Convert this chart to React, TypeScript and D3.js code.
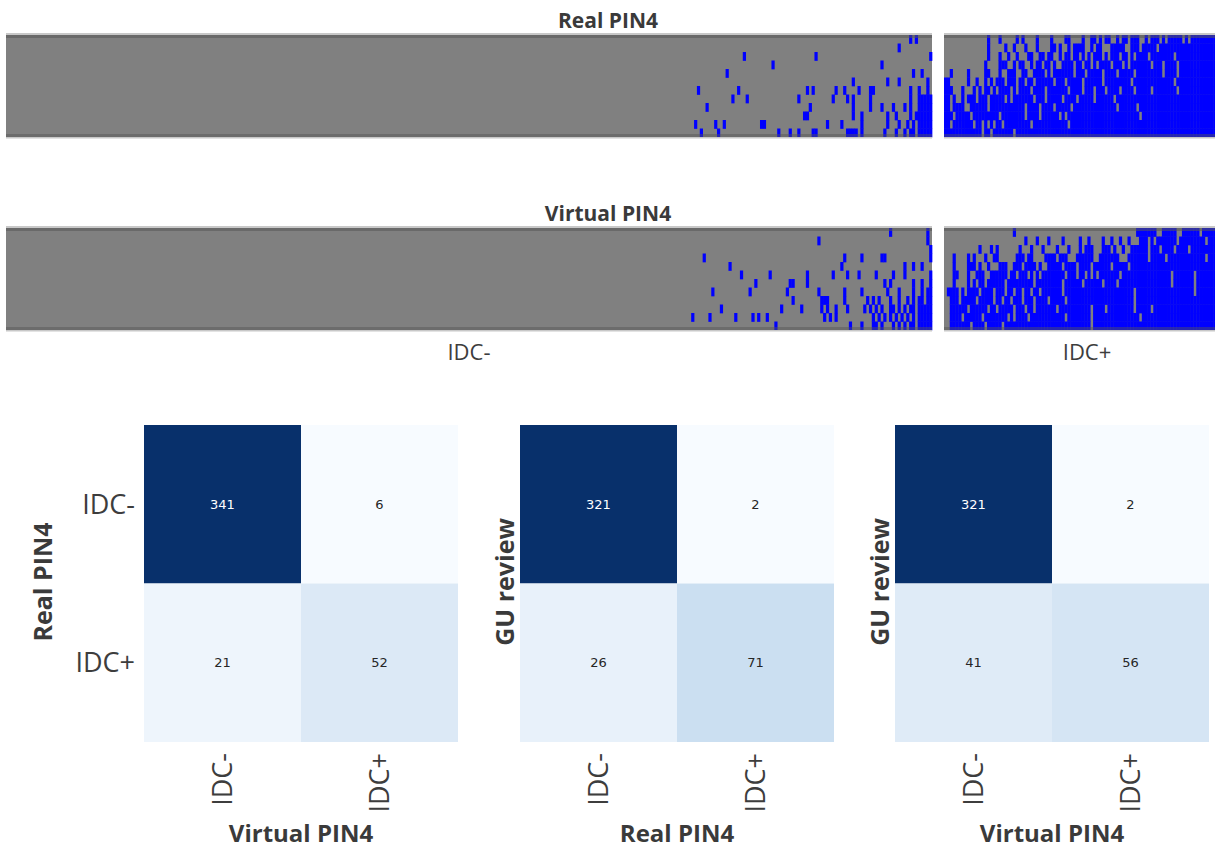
import React from 'react';
import * as d3 from 'd3';

const W = 1215;
const H = 850;
const FONT = "'Open Sans', 'DejaVu Sans', sans-serif";
const GRAY = "#808080";
const BLUE = "#0000ff";

// ---- top strips: one column per case, 12 rows per case ----
const nRows = 12;
const nNeg = 323;        // GU review IDC-
const nPos = 97;         // GU review IDC+
const negOffset = 238;   // first 238 IDC- columns are all gray

// blue cells of the IDC- block, column index counted from negOffset
const realNegBlue = [
  [77, 79],
  [73],
  [19, 44, 84],
  [29, 67],
  [13, 78, 81],
  [57, 69, 73, 83],
  [3, 17, 41, 43, 51, 54, 59, 63, 64, 77, 80, 83],
  [15, 20, 38, 50, 55, 57, 63, 77, 80, 81, 82, 83, 84],
  [6, 42, 57, 63, 67, 71, 75, 77, 80, 81, 82, 83, 84],
  [40, 41, 57, 60, 69, 72, 77, 79, 80, 81, 82, 83, 84],
  [2, 9, 12, 25, 26, 48, 53, 60, 69, 73, 76, 78, 80, 81, 82, 83, 84],
  [4, 10, 31, 35, 38, 43, 44, 55, 56, 57, 58, 60, 68, 72, 75, 77, 78, 80, 81, 82, 83, 84],
];

const virtualNegBlue = [
  [70, 83],
  [45, 83],
  [84],
  [5, 54, 60, 67, 68, 84],
  [14, 53, 75, 78, 81],
  [18, 28, 41, 50, 55, 59, 65, 71, 75, 84],
  [23, 35, 36, 41, 68, 70, 78, 81, 84],
  [8, 21, 34, 45, 54, 60, 69, 73, 78, 81, 83, 84],
  [36, 46, 47, 48, 54, 62, 64, 66, 70, 73, 76, 78, 80, 81, 83, 84],
  [11, 32, 39, 46, 48, 51, 55, 61, 63, 65, 67, 70, 71, 73, 75, 77, 78, 80, 81, 82, 83, 84],
  [1, 7, 16, 22, 24, 27, 47, 49, 51, 64, 66, 68, 70, 72, 74, 76, 78, 80, 81, 82, 83, 84],
  [30, 56, 60, 64, 65, 67, 71, 73, 75, 77, 78, 80, 81, 82, 83, 84],
];

// IDC+ block, '#' = blue, '.' = gray (spaces only for reading)
const realPosRows = [
  ".......... .....#...# .....#.#.. ..#....#.. ..##....#. .##.#.##.. #.##.###.. #.###.#.## ###.#.#### #######",
  ".......... .....#.... .#..#...#. ..#....##. #..#.####. .#.##...## ###..###.# ####.##### ########## #######",
  ".......... .....#...# ..#..#...# #..##.##.. #.##.##.#. #.###.#.## #.##.#.### #.######## .######### #######",
  ".......... ....#....# ##..#.##.. #.##.##.#. .####.##.# #.#.####.# ##.#.##### ##.###.### #.######## #######",
  "..#.....#. ....##...# ..###..##. .####.#.## #####.###. #####.#### .#####.### ######.### #.######## #######",
  "##......#. .#..#.#.## #.###.##.# #.######.# ##.#####.# #####.#### #####.#### ########## .######### #######",
  "###...#... #.#.##.#.# ###.#.#### .####.#### ###.####.# ##.###.### #.####.### ##.####### #.######## #######",
  "##.#..#.## #.###.#### #.#.###### #.###.#### #.####.### ##.######. ########## ########## ########## #######",
  "##.####..# #####.#### ########.# ###.####.# ####.##### ########## .######.## ########## ########## #######",
  "###.#####. #########. ########.# ###.###### .#.####### ########## ########.# ########## ########## #######",
  "##.####### .##.#.#.## .######### .######### ###.###### ########## ########## ########## ########## #######",
  "########## ###.##.### ####.##### ########## ########## ########## ########## ########## ########## #######",
];

const virtualPosRows = [
  ".......... .......... ....#..... .......... .......... .......... .......### ####..#### #..######. #######",
  ".......... .......... ........#. ..#...#... .#.....#.. #....#..#. .#..#...## #.#.###### #.######## #.#####",
  ".......... ..#...#.#. ......#... #...#....# ...#...#.# ##...###.# ..#..##### #.###.#### .####.#### #######",
  "...#....#. #...#..##. .....###.# #....####. ###...#### ##..###### #...###### #.#####.## ########## #.#####",
  "...#....## #.#..#...# ##..###.## ##.#..#### #.####.### #.######.# ####.##### ########## ########## #######",
  "...##...#. .###..#### ##.##.###. #.#.###### ##.###.##. #.#.###### #.######## #########. #######.## #######",
  "...#....#. #.##.##### #.######## #.######## #.######.# #####.#### .######### #########. #######.## #######",
  ".####.#.## ##.####.## #.##.##.## .##.###### #.######## ########## ######.### ########## #######.## #######",
  "..###.#### #.#####.## .##.###.## #.####.### ##.####### ########## ######.### ########## ########## #######",
  "..######.# #####.##.# ####.###.# #.#######. ########## #.####.### ######.### ##.####### ########## #######",
  "..####.### ###.###### ##.#.####. ########## ##.####### #.######## ########.# ########## ########## #######",
  "..#######. ####.##### .######### ########## ########## #.######## ########## ########## ########## #######",
];

// ---- confusion matrices ----
const classes = ["IDC-", "IDC+"];
const realVsVirtual = [[341, 6], [21, 52]];
const guVsReal = [[321, 2], [26, 71]];
const guVsVirtual = [[321, 2], [41, 56]];

function Strip({ top, title, negBlue, posRows }) {
  const h = 102;
  const negX = d3.scaleBand().domain(d3.range(nNeg)).range([6, 932]);
  const step = negX.bandwidth();
  const posX = d3.scaleBand().domain(d3.range(nPos)).range([944, 944 + nPos * step]);
  const y = d3.scaleBand().domain(d3.range(nRows)).range([top, top + h]);

  const cells = [];
  negBlue.forEach((cols, r) => {
    cols.forEach(c => cells.push({ x: negX(c + negOffset), y: y(r), w: step }));
  });
  posRows.forEach((row, r) => {
    row.replace(/ /g, "").split("").forEach((ch, c) => {
      if (ch === "#") cells.push({ x: posX(c), y: y(r), w: step });
    });
  });

  const panels = [[6, 932], [944, 944 + nPos * step]];

  return (
    <g>
      <text x={608} y={top - 7} textAnchor="middle" fontFamily={FONT} fontWeight={700}
        fontSize={21} fill="#3a3a3a">{title}</text>
      {panels.map(([a, b], i) => <rect key={"bg" + i} x={a} y={top} width={b - a} height={h} fill={GRAY} />)}
      {cells.map((d, i) => (
        <rect key={i} x={d.x} y={d.y} width={d.w + 0.35} height={y.bandwidth() + 0.35} fill={BLUE} />
      ))}
      {panels.map(([a, b], i) => (
        <g key={"edge" + i}>
          <rect x={a} y={top - 2} width={b - a} height={2} fill="#c8c8c8" />
          <rect x={a} y={top} width={b - a} height={3} fill="#555" opacity={0.55} />
          <rect x={a} y={top + h - 3} width={b - a} height={3} fill="#555" opacity={0.45} />
          <rect x={a} y={top + h} width={b - a} height={1.5} fill="#c8c8c8" />
        </g>
      ))}
    </g>
  );
}

function ConfusionMatrix({ x0, values, yTitle, xTitle, yTicks }) {
  const size = 314;
  const x = d3.scaleBand().domain(classes).range([x0, x0 + size]);
  const y = d3.scaleBand().domain(classes).range([425, 425 + size + 3]);
  const flat = values.flat();
  const lo = d3.min(flat), hi = d3.max(flat);
  const color = d3.scaleSequential(d3.interpolateBlues).domain([lo, hi]);

  return (
    <g>
      {classes.map((rowLab, i) => classes.map((colLab, j) => {
        const v = values[i][j];
        const t = (v - lo) / (hi - lo);
        return (
          <g key={rowLab + colLab}>
            <rect x={x(colLab)} y={y(rowLab)} width={x.bandwidth()} height={y.bandwidth()} fill={color(v)} />
            <text x={x(colLab) + x.bandwidth() / 2} y={y(rowLab) + y.bandwidth() / 2} dy="0.35em"
              textAnchor="middle" fontFamily="'DejaVu Sans', sans-serif" fontSize={13}
              fill={t > 0.5 ? "#ffffff" : "#262626"}>{v}</text>
          </g>
        );
      }))}
      {yTicks && classes.map(lab => (
        <text key={"yt" + lab} x={x0 - 9} y={y(lab) + y.bandwidth() / 2} dy="0.35em" textAnchor="end"
          fontFamily={FONT} fontWeight={400} fontSize={27} fill="#3d3d3d">{lab}</text>
      ))}
      {classes.map(lab => (
        <text key={"xt" + lab}
          transform={`translate(${x(lab) + x.bandwidth() / 2},753) rotate(-90)`}
          dy="0.35em" textAnchor="end" fontFamily={FONT} fontWeight={400} fontSize={27}
          fill="#3d3d3d">{lab}</text>
      ))}
      <text transform={`translate(${yTicks ? x0 - 92 : x0 - 6},${425 + size / 2}) rotate(-90)`}
        textAnchor="middle" fontFamily={FONT} fontWeight={700} fontSize={25} fill="#3a3a3a">{yTitle}</text>
      <text x={x0 + size / 2} y={842} textAnchor="middle" fontFamily={FONT} fontWeight={700}
        fontSize={24} fill="#3a3a3a">{xTitle}</text>
    </g>
  );
}

export default function App() {
  const negCenter = (6 + 932) / 2;
  const posCenter = 944 + (nPos * (926 / nNeg)) / 2;
  return (
    <svg width={W} height={H} style={{ position: "absolute", left: 0, top: 0, background: "#fff" }}>
      <Strip top={35} title="Real PIN4" negBlue={realNegBlue} posRows={realPosRows} />
      <Strip top={228} title="Virtual PIN4" negBlue={virtualNegBlue} posRows={virtualPosRows} />
      <text x={negCenter} y={360} textAnchor="middle" fontFamily={FONT} fontWeight={400} fontSize={22}
        fill="#3d3d3d">IDC-</text>
      <text x={posCenter + 4} y={360} textAnchor="middle" fontFamily={FONT} fontWeight={400} fontSize={22}
        fill="#3d3d3d">IDC+</text>
      <ConfusionMatrix x0={144} values={realVsVirtual} yTitle="Real PIN4" xTitle="Virtual PIN4" yTicks />
      <ConfusionMatrix x0={520} values={guVsReal} yTitle="GU review" xTitle="Real PIN4" yTicks={false} />
      <ConfusionMatrix x0={895} values={guVsVirtual} yTitle="GU review" xTitle="Virtual PIN4" yTicks={false} />
    </svg>
  );
}
